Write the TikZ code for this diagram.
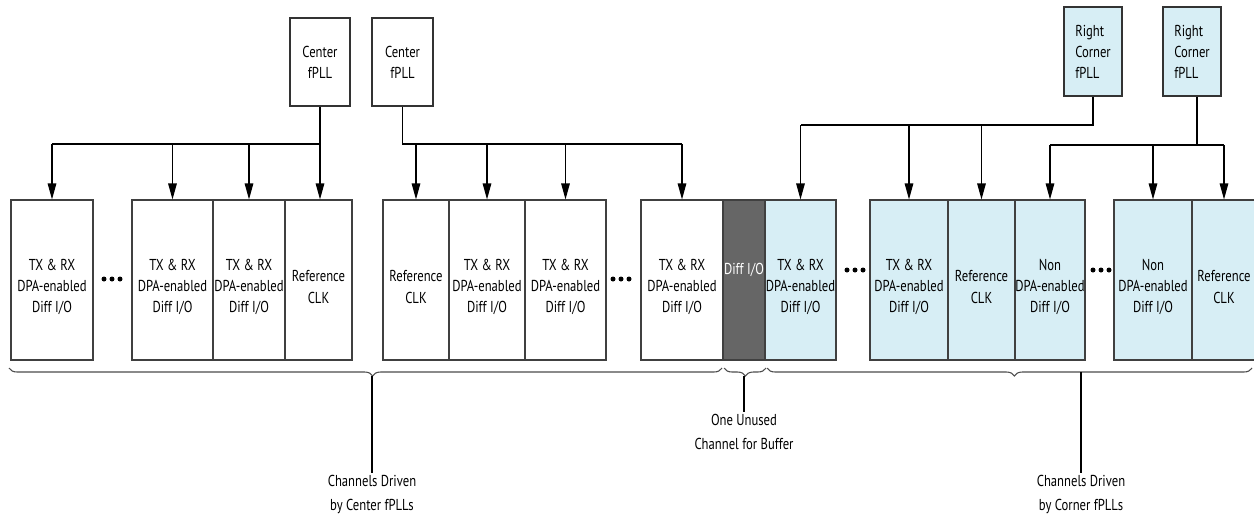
\documentclass[tikz,border=0pt]{standalone}
\usepackage{fontspec}
\setmainfont{PT Sans}[FakeStretch=0.8]
\usetikzlibrary{arrows.meta, positioning, decorations.pathreplacing}
\definecolor{chanblue}{HTML}{D7EEF5}
\definecolor{unusedgray}{HTML}{666666}

\begin{document}
\begin{tikzpicture}[
    chan/.style={rectangle, draw=black!75, line width=0.6pt, minimum height=3.2cm, inner sep=0pt},
    pll/.style={rectangle, draw=black!80, line width=0.6pt, minimum height=1.76cm, inner sep=0pt, font=\fontsize{9}{12}\selectfont},
    txt/.style={align=center, font=\fontsize{9}{12}\selectfont, yshift=-0.14cm},
    wire/.style={line width=0.7pt},
    arrow/.style={-{Triangle[length=0.32cm, width=0.17cm]}, line width=0.7pt},
    span/.style={decorate, decoration={brace, mirror, amplitude=0.16cm, aspect=0.51}, draw=black!70, line width=0.6pt},
    note/.style={align=center, font=\fontsize{9}{13.6}\selectfont, inner sep=1pt}
]
\useasboundingbox (0,0) rectangle (25.08,-10.38);

% fPLLs
\node[pll, minimum width=1.2cm, align=center] (cpllA) at (6.4, -1.24) {Center\\fPLL};
\node[pll, minimum width=1.22cm, align=center] (cpllB) at (8.05, -1.24) {Center\\fPLL};
\node[pll, minimum width=1.16cm, minimum height=1.78cm, fill=chanblue, align=left] (rpllA) at (21.86, -1.03) {Right\\Corner\\fPLL};
\node[pll, minimum width=1.16cm, minimum height=1.78cm, fill=chanblue, align=left] (rpllB) at (23.84, -1.03) {Right\\Corner\\fPLL};

% Channels driven by center fPLLs
\node[chan, minimum width=1.64cm, label={[txt]center:TX \& RX\\DPA-enabled\\Diff I/O}] (dpa1) at (1.04, -5.6) {};
\node[chan, minimum width=1.62cm, label={[txt]center:TX \& RX\\DPA-enabled\\Diff I/O}] (dpa2) at (3.45, -5.6) {};
\node[chan, minimum width=1.44cm, label={[txt]center:TX \& RX\\DPA-enabled\\Diff I/O}] (dpa3) at (4.98, -5.6) {};
\node[chan, minimum width=1.34cm, label={[txt]center:Reference\\CLK}] (ref1) at (6.37, -5.6) {};
\node[chan, minimum width=1.32cm, label={[txt]center:Reference\\CLK}] (ref2) at (8.32, -5.6) {};
\node[chan, minimum width=1.52cm, label={[txt]center:TX \& RX\\DPA-enabled\\Diff I/O}] (dpa4) at (9.74, -5.6) {};
\node[chan, minimum width=1.62cm, label={[txt]center:TX \& RX\\DPA-enabled\\Diff I/O}] (dpa5) at (11.31, -5.6) {};
\node[chan, minimum width=1.64cm, label={[txt]center:TX \& RX\\DPA-enabled\\Diff I/O}] (dpa6) at (13.64, -5.6) {};

% Buffer channel
\node[chan, minimum width=0.84cm, fill=unusedgray, label={[txt, text=white, yshift=0.34cm]center:Diff I/O}] (unused) at (14.88, -5.6) {};

% Channels driven by corner fPLLs
\node[chan, minimum width=1.42cm, fill=chanblue, label={[txt]center:TX \& RX\\DPA-enabled\\Diff I/O}] (dpa7) at (16.01, -5.6) {};
\node[chan, minimum width=1.56cm, fill=chanblue, label={[txt]center:TX \& RX\\DPA-enabled\\Diff I/O}] (dpa8) at (18.18, -5.6) {};
\node[chan, minimum width=1.34cm, fill=chanblue, label={[txt]center:Reference\\CLK}] (ref3) at (19.63, -5.6) {};
\node[chan, minimum width=1.4cm, fill=chanblue, label={[txt]center:Non\\DPA-enabled\\Diff I/O}] (non1) at (21.0, -5.6) {};
\node[chan, minimum width=1.56cm, fill=chanblue, label={[txt]center:Non\\DPA-enabled\\Diff I/O}] (non2) at (23.06, -5.6) {};
\node[chan, minimum width=1.28cm, fill=chanblue, label={[txt]center:Reference\\CLK}] (ref4) at (24.48, -5.6) {};

% Dots
\foreach \x/\y in {2.24/-5.58, 12.42/-5.58, 17.1/-5.4, 22.02/-5.4}
    \foreach \d in {-0.16, 0, 0.16}
        \fill (\x+\d, \y) circle (0.05cm);

% Clock buses
\coordinate (busA) at (6.4, -2.88);
\draw[wire] (cpllA.south) -- (busA) -- (busA -| dpa1.north);
\foreach \c in {dpa1, dpa2, dpa3}
    \draw[arrow] (busA -| \c.north) -- (\c.north);
\draw[arrow] (busA) -- (busA |- ref1.north);

\coordinate (busB) at (8.05, -2.88);
\draw[wire] (cpllB.south) -- (busB) -- (busB -| dpa6.north);
\foreach \c in {ref2, dpa4, dpa5, dpa6}
    \draw[arrow] (busB -| \c.north) -- (\c.north);

\coordinate (busC) at (21.86, -2.5);
\draw[wire] (rpllA.south) -- (busC) -- (busC -| dpa7.north);
\foreach \c in {dpa7, dpa8, ref3}
    \draw[arrow] (busC -| \c.north) -- (\c.north);

\coordinate (busD) at (23.94, -2.9);
\draw[wire] (rpllB.south -| busD) -- (busD);
\draw[wire] (busD -| non1.north) -- (busD -| ref4.north);
\foreach \c in {non1, non2, ref4}
    \draw[arrow] (busD -| \c.north) -- (\c.north);

% Braces and notes
\draw[span] (0.18, -7.36) -- (14.44, -7.36);
\draw[span] (14.48, -7.36) -- (15.32, -7.36);
\draw[span] (15.34, -7.36) -- (25.04, -7.36);

\coordinate (tipA) at (7.44, -7.52);
\coordinate (tipB) at (14.88, -7.52);
\coordinate (tipC) at (21.62, -7.44);

\node[note, anchor=north] (lblA) at (7.44, -9.46) {Channels Driven\\by Center fPLLs};
\node[note, anchor=north] (lblB) at (14.88, -8.24) {One Unused\\Channel for Buffer};
\node[note, anchor=north] (lblC) at (21.62, -9.46) {Channels Driven\\by Corner fPLLs};

\draw[wire] (tipA) -- (lblA.north);
\draw[wire] (tipB) -- (lblB.north);
\draw[wire] (tipC) -- (lblC.north);

\end{tikzpicture}
\end{document}
